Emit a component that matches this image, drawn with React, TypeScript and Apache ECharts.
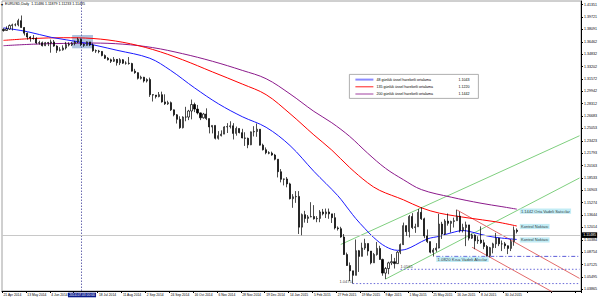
import React, { useEffect, useRef } from "react";
import * as echarts from "echarts";

// ---- price data: two trading days per candle, 21 Apr 2014 .. 13 Aug 2015 ----
const firstOpen = 1.381;
const closes = [
  1.3795, 1.3815, 1.386, 1.387, 1.387, 1.3925, 1.3835, 1.376, 1.371, 1.3695,
  1.369, 1.363, 1.3635, 1.3595, 1.3635, 1.363, 1.3645, 1.359, 1.3535, 1.354,
  1.3565, 1.361, 1.3605, 1.3625, 1.3645, 1.368, 1.361, 1.36, 1.3645, 1.3605,
  1.353, 1.3525, 1.352, 1.3465, 1.343, 1.341, 1.339, 1.3415, 1.337, 1.341,
  1.3365, 1.3365, 1.336, 1.326, 1.324, 1.3165, 1.318, 1.313, 1.315, 1.295,
  1.2945, 1.2925, 1.295, 1.2855, 1.283, 1.2845, 1.275, 1.2685, 1.2625, 1.2515,
  1.2655, 1.2655, 1.2735, 1.282, 1.276, 1.271, 1.2645, 1.2695, 1.2635, 1.2525,
  1.2545, 1.2375, 1.241, 1.243, 1.2525, 1.253, 1.254, 1.244, 1.2505, 1.245,
  1.238, 1.2375, 1.229, 1.246, 1.2465, 1.2495, 1.2285, 1.2225, 1.2185, 1.218,
  1.2155, 1.21, 1.1935, 1.1835, 1.184, 1.1775, 1.158, 1.1605, 1.161, 1.1205,
  1.137, 1.132, 1.134, 1.1345, 1.1315, 1.132, 1.1405, 1.138, 1.1405, 1.138,
  1.133, 1.1195, 1.1185, 1.1075, 1.0845, 1.07, 1.063, 1.057, 1.0895, 1.082,
  1.093, 1.099, 1.089, 1.0735, 1.0845, 1.0925, 1.078, 1.06, 1.066, 1.0735,
  1.075, 1.0725, 1.0875, 1.0975, 1.1225, 1.1145, 1.1345, 1.12, 1.121, 1.14,
  1.1315, 1.109, 1.1015, 1.0875, 1.0905, 1.093, 1.1245, 1.1115, 1.1285, 1.1255,
  1.128, 1.129, 1.135, 1.116, 1.12, 1.1235, 1.106, 1.11, 1.1025, 1.1035,
  1.1, 1.095, 1.083, 1.0935, 1.0985, 1.106, 1.0985, 1.0985, 1.096, 1.0925,
  1.1015, 1.1165, 1.1149,
];
const lows = [
  1.378, 1.379, 1.3805, 1.3795, 1.385, 1.385, 1.383, 1.373, 1.3675, 1.3648,
  1.3675, 1.3615, 1.361, 1.3585, 1.359, 1.359, 1.3503, 1.358, 1.35, 1.352,
  1.353, 1.3545, 1.3585, 1.359, 1.36, 1.363, 1.359, 1.358, 1.3595, 1.359,
  1.3515, 1.35, 1.3495, 1.3455, 1.342, 1.34, 1.3367, 1.338, 1.3333, 1.334,
  1.3355, 1.3345, 1.3345, 1.3255, 1.3225, 1.315, 1.315, 1.311, 1.311, 1.292,
  1.286, 1.29, 1.2915, 1.2845, 1.2815, 1.2815, 1.2735, 1.2665, 1.257, 1.25,
  1.2505, 1.26, 1.2615, 1.2625, 1.272, 1.269, 1.2615, 1.2635, 1.2615, 1.244,
  1.244, 1.236, 1.2358, 1.24, 1.243, 1.2445, 1.2505, 1.236, 1.241, 1.244,
  1.2375, 1.2275, 1.2245, 1.2285, 1.24, 1.2395, 1.228, 1.2215, 1.2165, 1.2165,
  1.2145, 1.2085, 1.186, 1.1795, 1.1755, 1.173, 1.157, 1.146, 1.1525, 1.1115,
  1.1098, 1.1265, 1.126, 1.1335, 1.1305, 1.127, 1.127, 1.136, 1.1325, 1.1315,
  1.126, 1.1175, 1.116, 1.1065, 1.084, 1.0695, 1.0495, 1.0462, 1.057, 1.0615,
  1.083, 1.0905, 1.083, 1.0715, 1.0735, 1.083, 1.0775, 1.0565, 1.0521, 1.0585,
  1.0705, 1.066, 1.074, 1.085, 1.097, 1.109, 1.107, 1.118, 1.113, 1.121,
  1.13, 1.106, 1.0995, 1.086, 1.0818, 1.088, 1.0925, 1.105, 1.11, 1.1225,
  1.1135, 1.12, 1.13, 1.1135, 1.1135, 1.0955, 1.103, 1.105, 1.0915, 1.0985,
  1.0985, 1.0915, 1.0815, 1.0808, 1.086, 1.093, 1.0955, 1.089, 1.092, 1.085,
  1.089, 1.096, 1.1123,
];
const highs = [
  1.3825, 1.385, 1.3875, 1.3885, 1.389, 1.395, 1.3993, 1.384, 1.377, 1.372,
  1.3735, 1.3705, 1.366, 1.365, 1.3645, 1.3645, 1.3675, 1.367, 1.36, 1.3575,
  1.36, 1.3645, 1.364, 1.3645, 1.366, 1.37, 1.369, 1.3625, 1.365, 1.3645,
  1.3625, 1.3545, 1.354, 1.3525, 1.348, 1.3445, 1.3425, 1.3445, 1.342, 1.343,
  1.342, 1.339, 1.3445, 1.337, 1.329, 1.3245, 1.32, 1.3185, 1.3165, 1.3175,
  1.2955, 1.2945, 1.2985, 1.299, 1.2955, 1.287, 1.286, 1.2755, 1.2695, 1.2665,
  1.2665, 1.279, 1.275, 1.2886, 1.2845, 1.2815, 1.2715, 1.271, 1.277, 1.2635,
  1.2545, 1.2545, 1.247, 1.248, 1.2535, 1.2575, 1.26, 1.2575, 1.253, 1.2505,
  1.25, 1.2455, 1.2385, 1.2465, 1.2535, 1.257, 1.2495, 1.2305, 1.2255, 1.2205,
  1.22, 1.217, 1.2085, 1.197, 1.1845, 1.1865, 1.179, 1.164, 1.168, 1.168,
  1.1385, 1.142, 1.1365, 1.1534, 1.1495, 1.135, 1.143, 1.1445, 1.145, 1.145,
  1.1375, 1.139, 1.1215, 1.121, 1.1115, 1.087, 1.074, 1.063, 1.1043, 1.0905,
  1.1, 1.1052, 1.0925, 1.088, 1.0865, 1.101, 1.096, 1.079, 1.068, 1.075,
  1.085, 1.08, 1.089, 1.099, 1.1265, 1.123, 1.1365, 1.139, 1.125, 1.1445,
  1.1467, 1.133, 1.1175, 1.101, 1.093, 1.0995, 1.138, 1.1275, 1.131, 1.1385,
  1.129, 1.133, 1.1436, 1.141, 1.125, 1.1278, 1.123, 1.112, 1.111, 1.1085,
  1.1215, 1.104, 1.097, 1.0945, 1.1, 1.113, 1.1065, 1.103, 1.101, 1.0965,
  1.1045, 1.1214, 1.1188,
];

// ---- moving averages: [candle index, price] ----
const ema48 = [
  [0, 1.383], [8, 1.378], [16, 1.3705], [26, 1.364], [38, 1.3535], [49, 1.343],
  [56, 1.327], [64, 1.304], [72, 1.283], [80, 1.266], [88, 1.252], [96, 1.228],
  [104, 1.194], [112, 1.162], [116, 1.142], [118, 1.132], [121, 1.119], [124, 1.107],
  [128, 1.095], [132, 1.09], [135, 1.0915], [138, 1.097], [142, 1.105], [146, 1.1085],
  [150, 1.113], [154, 1.116], [158, 1.113], [162, 1.109], [166, 1.1065], [172, 1.1043],
];
const ema135 = [
  [0, 1.3665], [10, 1.369], [20, 1.37], [30, 1.369], [40, 1.364], [50, 1.3545],
  [60, 1.341], [70, 1.325], [80, 1.309], [88, 1.295], [96, 1.27], [104, 1.242],
  [110, 1.222], [116, 1.199], [122, 1.179], [126, 1.169], [134, 1.1565], [140, 1.146],
  [146, 1.139], [156, 1.1325], [165, 1.1275], [172, 1.122],
];
const ema200 = [
  [0, 1.3595], [10, 1.3615], [20, 1.3625], [30, 1.363], [40, 1.3615], [50, 1.357],
  [60, 1.349], [70, 1.339], [80, 1.327], [88, 1.316], [96, 1.296], [104, 1.273],
  [110, 1.258], [116, 1.24], [122, 1.218], [128, 1.198], [134, 1.183], [140, 1.17],
  [150, 1.16], [160, 1.152], [167, 1.1475], [172, 1.1442],
];

// ---- drawn trend lines and levels: [candle index, price] ----
const greenUpper = [[113, 1.0977], [193, 1.2409]];
const greenLower = [[128, 1.0521], [193, 1.1853]];
const redUpper = [[152, 1.143], [193, 1.053]];
const redLower = [[157, 1.094], [184, 1.035]];
const levelMarchLow = [[117, 1.0462], [193, 1.0462]];
const levelApril = [[133, 1.065], [193, 1.065]];
const levelMay = [[145, 1.082], [193, 1.082]];

const annotationPoints = [
  [117, 1.0462], [133, 1.065], [145, 1.082], [173, 1.1442], [173, 1.122], [173, 1.1043],
];
const annotationTexts = [
  "1.0475", "1.0565", "1.0820 Kısa Vadeli Alıcılar", "1.1442 Orta Vadeli Satıcılar",
  "Kontrol Noktası", "Kontrol Noktası",
];

const selectionBox = [[23, 1.3736], [30, 1.3561]];
const crosshairIndex = 26;
const crosshairText = "2014.07.03 00:00";
const currentPrice = 1.11485;
const titleText = "EURUSD,Daily  1.11486 1.11879 1.11233 1.11485";

const legendNames = [
  "48 günlük üssel hareketli ortalama",
  "135 günlük üssel hareketli ortalama",
  "200 günlük üssel hareketli ortalama",
];
const legendValues = ["1.1043", "1.1220", "1.1442"];

// ---- axes ----
const dateLabels = [
  "21 Apr 2014", "13 May 2014", "4 Jun 2014", "", "18 Jul 2014", "11 Aug 2014",
  "2 Sep 2014", "24 Sep 2014", "16 Oct 2014", "6 Nov 2014", "28 Nov 2014",
  "19 Dec 2014", "14 Jan 2015", "5 Feb 2015", "27 Feb 2015", "19 Mar 2015",
  "9 Apr 2015", "1 May 2015", "25 May 2015", "16 Jun 2015", "8 Jul 2015", "30 Jul 2015",
];
const yTicks = [
  1.03865, 1.05495, 1.07125, 1.08754, 1.10384, 1.12014, 1.13644, 1.15274,
  1.16903, 1.18533, 1.20163, 1.21793, 1.23423, 1.25053, 1.26683, 1.28312,
  1.29942, 1.31572, 1.33202, 1.34832, 1.36462, 1.38091, 1.39721, 1.41351,
];
const SLOT_COUNT = 194;
const LABEL_STEP = 8;
const Y_MIN = 1.03641;
const Y_MAX = 1.41838;

export default function App() {
  const ref = useRef<HTMLDivElement>(null);

  useEffect(() => {
    const chart = echarts.init(ref.current!, undefined, { renderer: "svg" });
    const font = "Liberation Sans";
    const tiny = 3.6;
    const xFont = 3.3;
    const categories = Array.from({ length: SLOT_COUNT }, (_, i) => String(i));
    const candles = closes.map((c, i) => {
      const o = i === 0 ? firstOpen : closes[i - 1];
      return [o, c, Math.min(lows[i], o, c), Math.max(highs[i], o, c)];
    });

    const simpleLine = (data: number[][], color: string, type: any = "solid", width = 1) => ({
      type: "line",
      data,
      showSymbol: false,
      silent: true,
      lineStyle: { color, width, type },
      z: 3,
    });
    const maLine = (data: number[][], color: string) => ({
      type: "line",
      data,
      showSymbol: false,
      silent: true,
      smooth: 0.35,
      lineStyle: { color, width: 1 },
      z: 4,
    });

    const cyan = { backgroundColor: "#b3e7f2", padding: [0.6, 1.2], color: "#000" };
    const annotationStyles: any[] = [
      { position: "left", distance: 1, offset: [0, -2.5], fontSize: 4, color: "#000" },
      { position: "right", distance: 0, offset: [0, -2.5], fontSize: 4, color: "#000" },
      { position: "right", distance: 0, offset: [0, 3], fontSize: 4.3, ...cyan },
      { position: "right", distance: 0, offset: [0, 2], fontSize: 4, ...cyan },
      { position: "right", distance: 0, offset: [0, 0.5], fontSize: 4, ...cyan },
      { position: "right", distance: 0, offset: [0, 0.5], fontSize: 4, ...cyan },
    ];

    const legendColors = ["#8a8aff", "#ff2020", "#a040a0"];
    const legendChildren: any[] = [
      { type: "rect", shape: { x: 0, y: 0, width: 129, height: 24 }, style: { fill: "#fff", stroke: "#9a9a9a", lineWidth: 0.8 } },
    ];
    legendNames.forEach((name, i) => {
      const y = 5.2 + i * 7.2;
      legendChildren.push(
        { type: "line", shape: { x1: 6, y1: y, x2: 24, y2: y }, style: { stroke: legendColors[i], lineWidth: i === 0 ? 2 : 1 } },
        { type: "text", x: 27, y, style: { text: name, fontSize: tiny, fontFamily: font, fill: "#000", verticalAlign: "middle" } },
        { type: "text", x: 109, y, style: { text: legendValues[i], fontSize: tiny, fontFamily: font, fill: "#000", verticalAlign: "middle" } },
      );
    });

    chart.setOption({
      animation: false,
      backgroundColor: "#ffffff",
      textStyle: { fontFamily: font },
      grid: { left: 2, right: 17, top: 1, bottom: 8, show: true, borderColor: "#a0a0a0", borderWidth: 1, backgroundColor: "#fff" },
      xAxis: {
        type: "category",
        data: categories,
        boundaryGap: true,
        axisLine: { lineStyle: { color: "#000", width: 1 } },
        axisTick: { show: true, length: 2, interval: (i: number) => i % LABEL_STEP === 0, lineStyle: { color: "#000" } },
        axisLabel: {
          interval: (i: number) => i % LABEL_STEP === 0 && !!dateLabels[i / LABEL_STEP],
          formatter: (_v: string, i: number) => dateLabels[i / LABEL_STEP] ?? "",
          align: "left",
          margin: 2,
          fontSize: xFont,
          color: "#000",
          fontFamily: font,
        },
        splitLine: { show: false },
      },
      yAxis: {
        type: "value",
        position: "right",
        min: Y_MIN,
        max: Y_MAX,
        scale: true,
        axisLine: { show: true, lineStyle: { color: "#000" } },
        axisTick: { show: true, length: 2, customValues: yTicks, lineStyle: { color: "#000" } },
        axisLabel: {
          customValues: yTicks,
          formatter: (v: number) => v.toFixed(5),
          fontSize: tiny,
          margin: 3,
          color: "#000",
          fontFamily: font,
        },
        splitLine: { show: false },
      },
      series: [
        {
          type: "candlestick",
          data: candles,
          barWidth: 1.6,
          silent: true,
          z: 5,
          itemStyle: { color: "#ffffff", color0: "#000000", borderColor: "#000000", borderColor0: "#000000", borderWidth: 0.7 },
          markArea: {
            silent: true,
            itemStyle: { color: "rgba(140,170,210,0.7)" },
            data: [[{ coord: selectionBox[0] }, { coord: selectionBox[1] }]],
          },
          markLine: {
            silent: true,
            symbol: "none",
            data: [
              { xAxis: crosshairIndex, lineStyle: { type: [1.5, 1.5], color: "#6b6bb0", width: 1 }, label: { show: false } },
              {
                yAxis: currentPrice,
                lineStyle: { type: "solid", color: "#c8c8c8", width: 1 },
                label: {
                  show: true,
                  position: "end",
                  distance: 1,
                  formatter: currentPrice.toFixed(5),
                  backgroundColor: "#000",
                  color: "#fff",
                  fontSize: tiny,
                  padding: [0.8, 1.2],
                  fontFamily: font,
                },
              },
            ],
          },
        },
        maLine(ema200, "#8b1a8b"),
        maLine(ema135, "#ff0000"),
        maLine(ema48, "#1a1aff"),
        simpleLine(greenUpper, "#7fcf7f"),
        simpleLine(greenLower, "#7fcf7f"),
        simpleLine(redUpper, "#e26a6a"),
        simpleLine(redLower, "#e26a6a"),
        simpleLine(levelMarchLow, "#6a6ad8", [1.5, 2]),
        simpleLine(levelApril, "#6a6ad8", [1.5, 2]),
        simpleLine(levelMay, "#5a5ad8", [4, 2, 1, 2]),
        {
          type: "scatter",
          symbolSize: 0,
          silent: true,
          z: 6,
          data: annotationPoints.map((p, i) => ({
            value: p,
            label: { show: true, formatter: annotationTexts[i], fontFamily: font, ...annotationStyles[i] },
          })),
        },
      ],
      graphic: [
        { type: "text", left: 1, top: 2, style: { text: "▾", fontSize: 4, fill: "#000" } },
        { type: "text", left: 5, top: 2.3, style: { text: titleText, fontSize: tiny, fontFamily: font, fill: "#000" } },
        { type: "group", left: 349, top: 74, children: legendChildren },
        {
          type: "text",
          x: 82,
          y: 295,
          z: 10,
          style: {
            text: crosshairText,
            fontSize: xFont,
            fontFamily: font,
            fill: "#fff",
            backgroundColor: "#0a1a8a",
            padding: [0.8, 1.2],
            align: "center",
            verticalAlign: "middle",
          },
        },
      ],
    });
    return () => chart.dispose();
  }, []);

  return (
    <div
      ref={ref}
      style={{ position: "fixed", left: 0, top: 0, width: 600, height: 299, background: "#fff" }}
    />
  );
}
